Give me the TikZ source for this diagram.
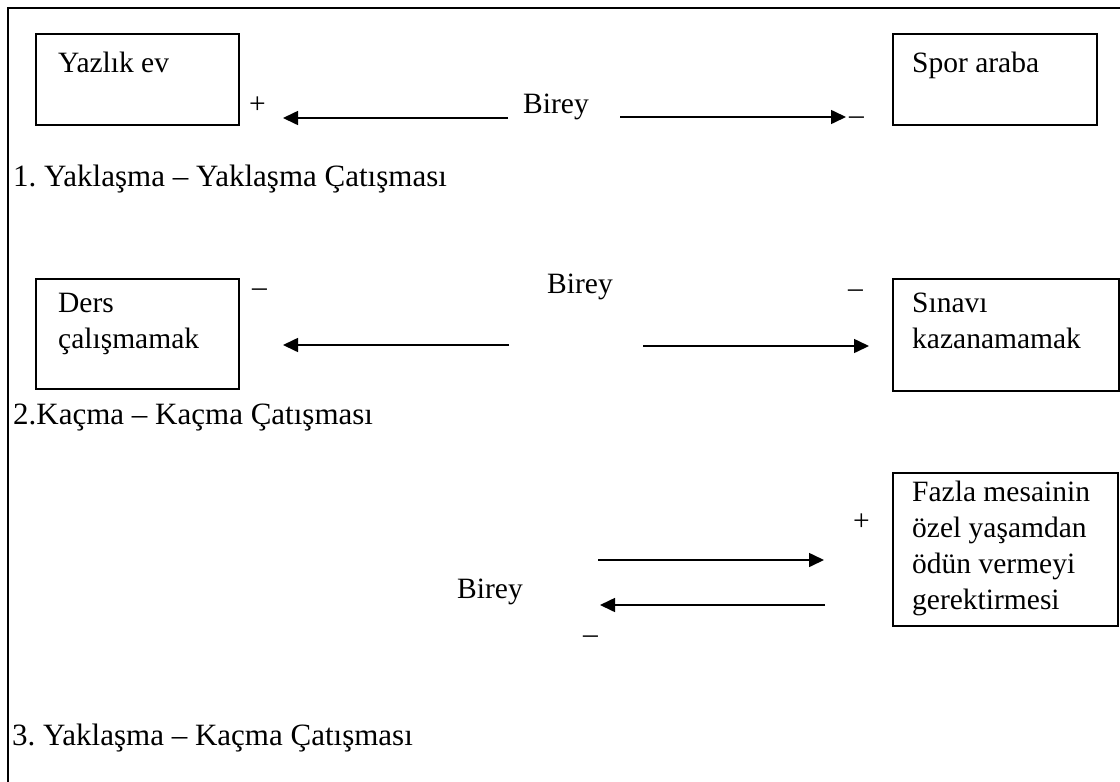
\documentclass[tikz,border=0pt]{standalone}
\usepackage{fontspec}
\setmainfont{Liberation Serif}
\usetikzlibrary{arrows.meta,calc}
\frenchspacing

\tikzset{
  box/.style={draw, rectangle, line width=1.6pt, inner sep=0pt, anchor=north west},
  lbl/.style={inner sep=0pt, anchor=base west},
  mlbl/.style={inner sep=0pt, anchor=north west, align=left},
  caption/.style={lbl, font=\fontsize{31}{36}\selectfont},
  arr/.style={line width=1.6pt, -{Triangle[length=15pt,width=14pt]}},
  frameline/.style={line width=2.6pt}
}

\begin{document}
\begin{tikzpicture}[x=1pt, y=-1pt, font=\fontsize{29.5}{36}\selectfont]
  \useasboundingbox (0,0) rectangle (1120,782);

  % outer frame: top and left sides only
  \draw[frameline] (8,782) -- (8,8) -- (1120,8);

  % ---------- 1. approach-approach ----------
  \node[box, minimum width=203pt, minimum height=91pt] (yazlik) at (35,33) {};
  \node[lbl] (yazlikT) at ($(yazlik.north west)+(23,39)$) {Yazlık ev};
  \node[box, minimum width=204pt, minimum height=91pt] (spor) at (892,33) {};
  \node[lbl] (sporT) at ($(spor.north west)+(20,39)$) {Spor araba};

  \node[lbl] (birey1) at (523,113) {Birey};
  \node[lbl] (plus1) at (249,113) {+};
  \node[lbl] (minus1) at (849,124) {–};
  \coordinate (a1s) at (508,118);
  \coordinate (a1e) at (283,118);
  \coordinate (b1s) at (620,117);
  \coordinate (b1e) at (846,117);
  \draw[arr] (a1s) -- (a1e);
  \draw[arr] (b1s) -- (b1e);

  \node[caption] (cap1) at (13,186) {1. Yaklaşma – Yaklaşma Çatışması};

  % ---------- 2. avoidance-avoidance ----------
  \node[box, minimum width=203pt, minimum height=110pt] (ders) at (35,278) {};
  \node[mlbl] (dersT) at ($(ders.north west)+(23,15)$) {Ders\\çalışmamak};
  \node[box, minimum width=226pt, minimum height=112pt] (sinav) at (892,278) {};
  \node[mlbl] (sinavT) at ($(sinav.north west)+(20,15)$) {Sınavı\\kazanamamak};

  \node[lbl] (birey2) at (547,293) {Birey};
  \node[lbl] (minus2a) at (252,296) {–};
  \node[lbl] (minus2b) at (848,297) {–};
  \coordinate (a2s) at (509,345);
  \coordinate (a2e) at (283,345);
  \coordinate (b2s) at (643,346);
  \coordinate (b2e) at (869,346);
  \draw[arr] (a2s) -- (a2e);
  \draw[arr] (b2s) -- (b2e);

  \node[caption] (cap2) at (13,424) {2.Kaçma – Kaçma Çatışması};

  % ---------- 3. approach-avoidance ----------
  \node[box, minimum width=225pt, minimum height=153pt] (fazla) at (892,472) {};
  \node[mlbl] (fazlaT) at ($(fazla.north west)+(20,9)$)
    {Fazla mesainin\\özel yaşamdan\\ödün vermeyi\\gerektirmesi};

  \node[lbl] (birey3) at (457,598) {Birey};
  \node[lbl] (plus3) at (853,530) {+};
  \node[lbl] (minus3) at (583,643) {–};
  \coordinate (c3s) at (598,560);
  \coordinate (c3e) at (824,560);
  \coordinate (d3s) at (825,605);
  \coordinate (d3e) at (600,605);
  \draw[arr] (c3s) -- (c3e);
  \draw[arr] (d3s) -- (d3e);

  \node[caption] (cap3) at (12,745) {3. Yaklaşma – Kaçma Çatışması};
\end{tikzpicture}
\end{document}
